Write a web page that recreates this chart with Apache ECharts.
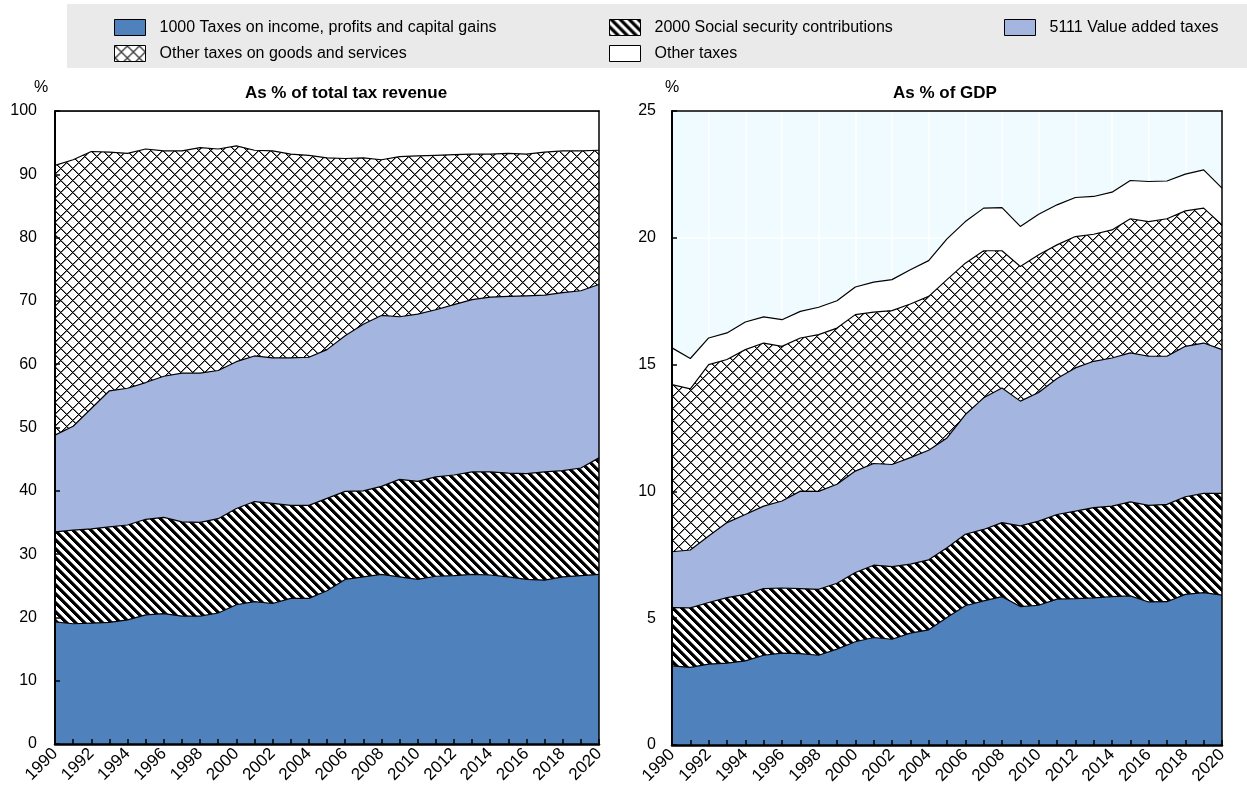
<!DOCTYPE html>
<html>
<head>
<meta charset="utf-8">
<script src="https://cdn.jsdelivr.net/npm/echarts@6/dist/echarts.min.js"></script>
<style>
html,body{margin:0;padding:0;background:#fff;}
#main{width:1247px;height:787px;}
</style>
</head>
<body>
<div id="main"></div>
<script>
const years = ['1990','1991','1992','1993','1994','1995','1996','1997','1998','1999','2000','2001','2002','2003','2004','2005','2006','2007','2008','2009','2010','2011','2012','2013','2014','2015','2016','2017','2018','2019','2020'];

const seriesNames = ['1000 Taxes on income, profits and capital gains','2000 Social security contributions','5111 Value added taxes','Other taxes on goods and services','Other taxes'];

// As % of total tax revenue
const incomeShare = [19.3,19.0,19.1,19.2,19.6,20.4,20.6,20.2,20.2,20.7,22.0,22.5,22.2,23.0,23.0,24.2,26.0,26.4,26.8,26.4,26.0,26.5,26.6,26.8,26.7,26.4,26.0,25.9,26.4,26.6,26.8];
const sscShare    = [14.2,14.8,14.9,15.1,15.0,15.1,15.2,14.9,14.8,14.9,15.2,15.8,15.8,14.7,14.7,14.6,13.9,13.6,13.9,15.4,15.5,15.7,15.9,16.2,16.3,16.4,16.7,17.1,16.8,17.0,18.4];
const vatShare    = [15.3,16.4,19.0,21.5,21.6,21.6,22.3,23.5,23.6,23.4,23.2,23.0,23.0,23.3,23.4,23.5,24.6,26.3,27.0,25.7,26.4,26.4,26.9,27.2,27.6,27.9,28.1,27.9,28.1,28.0,27.4];
const ogsShare    = [42.6,42.1,40.6,37.7,37.1,36.9,35.6,35.1,35.6,35.0,34.1,32.5,32.7,32.2,31.9,30.3,28.0,26.3,24.6,25.3,25.0,24.4,23.7,23.0,22.6,22.6,22.4,22.6,22.4,22.1,21.2];
const otherShare  = [8.6,7.7,6.4,6.5,6.7,6.0,6.3,6.3,5.8,6.0,5.5,6.2,6.3,6.8,7.0,7.4,7.5,7.4,7.7,7.2,7.1,7.0,6.9,6.8,6.8,6.7,6.8,6.5,6.3,6.3,6.2];

// As % of GDP
const incomeGdp = [3.12,3.06,3.19,3.23,3.32,3.54,3.62,3.60,3.54,3.78,4.07,4.24,4.17,4.41,4.54,5.03,5.49,5.68,5.85,5.46,5.51,5.75,5.77,5.80,5.85,5.88,5.64,5.65,5.94,6.01,5.91];
const sscGdp    = [2.30,2.35,2.43,2.58,2.62,2.63,2.57,2.57,2.60,2.60,2.73,2.85,2.86,2.72,2.76,2.75,2.82,2.82,2.92,3.18,3.32,3.34,3.45,3.56,3.57,3.71,3.81,3.84,3.85,3.91,4.01];
const vatGdp    = [2.20,2.28,2.62,2.96,3.15,3.25,3.43,3.84,3.86,3.90,4.00,4.01,4.03,4.20,4.32,4.33,4.72,5.19,5.31,4.92,5.07,5.36,5.65,5.77,5.84,5.87,5.88,5.84,5.93,5.93,5.67];
const ogsGdp    = [6.59,6.35,6.76,6.43,6.50,6.43,6.10,6.04,6.18,6.16,6.17,5.97,6.07,6.06,6.07,6.24,5.97,5.80,5.41,5.31,5.43,5.27,5.18,5.01,5.05,5.29,5.31,5.42,5.34,5.32,4.92];
const otherGdp  = [1.45,1.20,1.05,1.05,1.09,1.03,1.05,1.05,1.08,1.08,1.09,1.18,1.22,1.35,1.41,1.61,1.64,1.68,1.70,1.58,1.60,1.58,1.54,1.49,1.49,1.51,1.58,1.49,1.45,1.51,1.45];

const FONT = "'Liberation Sans', Arial, Helvetica, sans-serif";

function makePattern(P, shade) {
  const c = document.createElement('canvas');
  c.width = P; c.height = P;
  const ctx = c.getContext('2d');
  const img = ctx.createImageData(P, P);
  for (let y = 0; y < P; y++) {
    for (let x = 0; x < P; x++) {
      const i = (y * P + x) * 4;
      const v = shade(x, y);
      img.data[i] = v; img.data[i+1] = v; img.data[i+2] = v; img.data[i+3] = 255;
    }
  }
  ctx.putImageData(img, 0, 0);
  return { image: c, repeat: 'repeat' };
}
const mod = (a, n) => ((a % n) + n) % n;
const stripeP = 9;
const stripes = makePattern(stripeP, (x, y) => {
  const d = mod(x - y, stripeP);
  return d < 4 ? 0 : (d === 4 ? 110 : 255);
});
const crossP = 12;
const cross = makePattern(crossP, (x, y) => {
  const a = mod(x + y, crossP), b = mod(x - y, crossP);
  if (a === 0 || b === 0) return 0;
  if (a === 1 || b === 1) return 130;
  return 255;
});

const fills = ['#4F81BD', stripes, '#A4B6E0', cross, '#FFFFFF'];

const grids = [
  { left: 55, top: 111, width: 544, height: 633, show: true, backgroundColor: '#F0FBFF', borderWidth: 0 },
  { left: 672, top: 111, width: 550, height: 634, show: true, backgroundColor: '#F0FBFF', borderWidth: 0 }
];

const xAxes = [], yAxes = [];
const yCfg = [ {max: 100, interval: 10, margin: 18}, {max: 25, interval: 5, margin: 16} ];
for (let g = 0; g < 2; g++) {
  xAxes.push({ gridIndex: g, type: 'category', data: years, boundaryGap: false, position: 'bottom',
    axisLine: {show: false}, axisTick: {show: false}, axisLabel: {show: false},
    splitLine: {show: true, interval: 1, lineStyle: {color: '#FFFFFF', width: 1.5}} });
  xAxes.push({ gridIndex: g, type: 'category', data: years, boundaryGap: false, position: 'bottom', z: 5,
    axisLine: {show: true, onZero: false, lineStyle: {color: '#000', width: 2.5}},
    axisTick: {show: true, inside: true, interval: 0, length: 5, lineStyle: {color: '#000', width: 1.5}},
    axisLabel: {show: true, interval: 1, rotate: 45, margin: 7, fontSize: 17, color: '#000', fontFamily: FONT},
    splitLine: {show: false} });
  xAxes.push({ gridIndex: g, type: 'category', data: years, boundaryGap: false, position: 'top', z: 5,
    axisLine: {show: true, onZero: false, lineStyle: {color: '#000', width: 1.5}},
    axisTick: {show: false}, axisLabel: {show: false}, splitLine: {show: false} });

  yAxes.push({ gridIndex: g, type: 'value', min: 0, max: yCfg[g].max, interval: yCfg[g].interval, position: 'left',
    axisLine: {show: false}, axisTick: {show: false}, axisLabel: {show: false},
    splitLine: {show: true, lineStyle: {color: '#FFFFFF', width: 1.5}} });
  yAxes.push({ gridIndex: g, type: 'value', min: 0, max: yCfg[g].max, interval: yCfg[g].interval, position: 'left', z: 5,
    name: '%', nameLocation: 'end', nameGap: 15,
    nameTextStyle: {fontSize: 16, color: '#000', fontFamily: FONT, align: 'center', padding: g === 0 ? [0, 28, 0, 0] : [0, 0, 0, 0]},
    axisLine: {show: true, onZero: false, lineStyle: {color: '#000', width: 2}},
    axisTick: {show: true, inside: true, length: 5, lineStyle: {color: '#000', width: 1.5}},
    axisLabel: {show: true, margin: yCfg[g].margin, fontSize: 16, color: '#000', fontFamily: FONT},
    splitLine: {show: false} });
  yAxes.push({ gridIndex: g, type: 'value', min: 0, max: yCfg[g].max, interval: yCfg[g].interval, position: 'right', z: 5,
    axisLine: {show: true, onZero: false, lineStyle: {color: '#000', width: 1.5}},
    axisTick: {show: false}, axisLabel: {show: false}, splitLine: {show: false} });
}

const shareData = [incomeShare, sscShare, vatShare, ogsShare, otherShare];
const gdpData = [incomeGdp, sscGdp, vatGdp, ogsGdp, otherGdp];
const series = [];
[shareData, gdpData].forEach((set, g) => {
  set.forEach((arr, i) => {
    series.push({
      type: 'line', name: seriesNames[i], xAxisIndex: g * 3, yAxisIndex: g * 3, stack: 'tot' + g,
      data: arr, symbol: 'none', smooth: false, z: 2,
      lineStyle: {color: '#000', width: 1.2},
      itemStyle: {color: fills[i]},
      areaStyle: {color: fills[i], opacity: 1},
      emphasis: {disabled: true},
      silent: true
    });
  });
});

function legendItem(i) {
  return { name: seriesNames[i], icon: 'rect', itemStyle: {color: fills[i], borderColor: '#000', borderWidth: 1} };
}
const legendBase = {
  orient: 'vertical', top: 19, itemWidth: 31, itemHeight: 16, itemGap: 9, padding: 0,
  selectedMode: false,
  textStyle: {fontSize: 16, color: '#000', fontFamily: FONT, lineHeight: 16, padding: [0, 0, 0, 9]}
};

const option = {
  animation: false,
  backgroundColor: '#FFFFFF',
  graphic: [{ type: 'rect', left: 67, top: 4, shape: {width: 1180, height: 64}, style: {fill: '#EAEAEA'}, z: -10 }],
  title: [
    { text: 'As % of total tax revenue', left: 346, top: 85, textAlign: 'center', padding: 0,
      textStyle: {fontSize: 17, fontWeight: 'bold', color: '#000', fontFamily: FONT} },
    { text: 'As % of GDP', left: 945, top: 85, textAlign: 'center', padding: 0,
      textStyle: {fontSize: 17, fontWeight: 'bold', color: '#000', fontFamily: FONT} }
  ],
  legend: [
    Object.assign({}, legendBase, { left: 114, data: [legendItem(0), legendItem(3)] }),
    Object.assign({}, legendBase, { left: 609, data: [legendItem(1), legendItem(4)] }),
    Object.assign({}, legendBase, { left: 1004, data: [legendItem(2)] })
  ],
  grid: grids,
  xAxis: xAxes,
  yAxis: yAxes,
  series: series
};

const chart = echarts.init(document.getElementById('main'), null, {renderer: 'canvas'});
chart.setOption(option);
</script>
</body>
</html>
